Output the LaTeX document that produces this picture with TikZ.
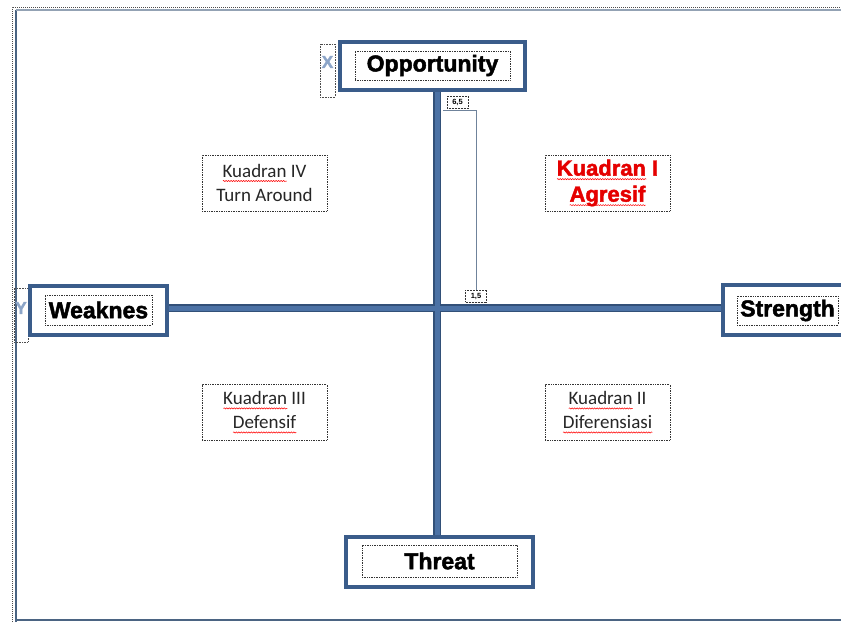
\documentclass[tikz,border=0pt]{standalone}
\usepackage{fontspec}
\usetikzlibrary{decorations.pathmorphing}
\setmainfont{Liberation Sans}
\newfontfamily\calfont{Carlito}
\newfontfamily\boldfont[FakeBold=2]{Liberation Sans Bold}
\newcommand\rw[1]{\setbox0=\hbox{#1}\rlap{\tikz[baseline=0pt,x=1pt,y=1pt]{\draw[red, line width=0.5pt, decorate, decoration={snake,amplitude=0.6pt,segment length=2.5pt}] (0pt,-3.5pt) -- (\wd0,-3.5pt);}}\box0\relax}
\definecolor{boxblue}{RGB}{58,92,138}
\definecolor{axisblue}{RGB}{76,114,165}
\definecolor{axisdark}{RGB}{50,80,120}
\definecolor{framec}{RGB}{75,100,130}
\definecolor{xyblue}{RGB}{140,165,200}
\tikzset{
  outerbox/.style={draw=boxblue, line width=4pt, fill=white, rectangle, inner sep=0pt},
  innerbox/.style={draw=black!80, densely dotted, line width=0.7pt, rectangle, inner sep=0pt,
     font=\boldfont\fontsize{23}{26}\selectfont},
  quad/.style={draw=black!80, densely dotted, line width=0.7pt, rectangle, inner sep=0pt,
     minimum width=125pt, minimum height=56pt, align=center, text=black!85,
     font=\calfont\fontsize{19}{24}\selectfont},
  tiny/.style={draw=black!80, densely dotted, line width=0.5pt, inner sep=0.5pt,
     font=\bfseries\fontsize{7.5}{8}\selectfont, minimum width=21pt, minimum height=12pt},
  xybox/.style={draw=black!70, densely dotted, line width=0.6pt, rectangle, inner sep=0pt},
  xyletter/.style={text=xyblue, font=\boldfont\fontsize{17}{17}\selectfont, inner sep=0pt},
  axis/.style={line width=8pt, draw=axisdark},
  axisin/.style={line width=5pt, draw=axisblue}
}
\begin{document}
\begin{tikzpicture}[x=1pt,y=-1pt]
\useasboundingbox (0,0) rectangle (841,622);
\fill[white] (0,0) rectangle (841,622);
% frame
\draw[black!70, densely dotted, line width=1pt] (12,622) -- (12,7) -- (841,7);
\draw[framec, line width=2.5pt] (16,622) -- (16,10);
\draw[framec!60, line width=1.2pt] (16,10) -- (841,10);
\draw[framec, line width=2pt] (16,620) -- (841,620);
% X and Y markers
\node[xybox, minimum width=15pt, minimum height=53pt] (xb) at (327.5,70.5) {};
\node[xyletter] (xl) at (327.5,62) {X};
\node[xybox, minimum width=14pt, minimum height=54pt] (yb) at (21,315) {};
\node[xyletter] (yl) at (21,308) {Y};
% boxes
\node[outerbox, minimum width=185pt, minimum height=48pt] (opp) at (432.5,66) {};
\node[innerbox, minimum width=155pt, minimum height=29pt] (oppt) at (432.5,65.5) {Opportunity};
\node[outerbox, minimum width=137pt, minimum height=49pt] (weak) at (98.5,310.5) {};
\node[innerbox, minimum width=107pt, minimum height=30pt] (weakt) at (98.5,310) {Weaknes};
\node[outerbox, minimum width=130pt, minimum height=50pt] (str) at (788,310) {};
\node[innerbox, minimum width=101pt, minimum height=29pt] (strt) at (787.5,310.5) {Strength};
\node[outerbox, minimum width=187pt, minimum height=50pt] (thr) at (439.5,562) {};
\node[innerbox, minimum width=155pt, minimum height=32pt] (thrt) at (439.5,561) {Threat};
% axes
\coordinate (cx) at (437,308);
\draw[axis] (cx |- opp.south) -- (cx |- thr.north);
\draw[axis] (weak.east |- cx) -- (str.west |- cx);
\draw[axisin] (cx |- opp.south) -- (cx |- thr.north);
\draw[axisin] (weak.east |- cx) -- (str.west |- cx);
% small labels
\node[tiny, fill=white] (a65) at (457.5,102) {6,5};
\node[tiny, fill=white] (a15) at (476,296) {1,5};
\coordinate (c1) at (443,110);
\draw[framec!80, line width=0.7pt] (c1) -- (c1 -| a15) -- (a15.north);
% quadrants
\node[quad] (q4) at (264.5,183) {\rw{Kuadran} IV\\Turn Around};
\node[quad, text=red!90!black, font=\boldfont\fontsize{22}{26}\selectfont] (q1) at (607.5,183) {\rw{Kuadran} I\\\rw{Agresif}};
\node[quad] (q3) at (264.5,412.5) {\rw{Kuadran} III\\\rw{Defensif}};
\node[quad] (q2) at (607.5,412.5) {\rw{Kuadran} II\\\rw{Diferensiasi}};
\end{tikzpicture}
\end{document}
